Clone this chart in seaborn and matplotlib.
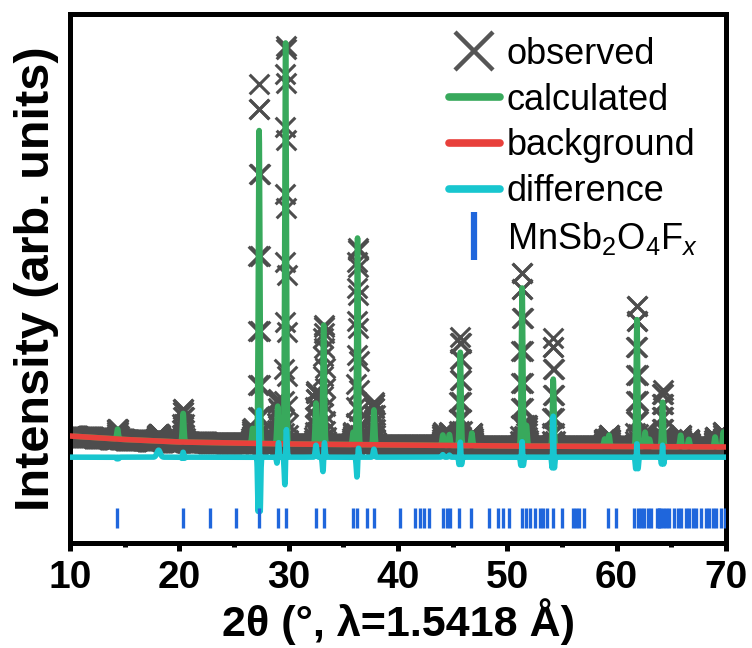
import numpy as np
import pandas as pd
import matplotlib
matplotlib.use("Agg")
import matplotlib.pyplot as plt
from matplotlib.lines import Line2D
from matplotlib.ticker import MultipleLocator
import seaborn as sns

# ---------------------------------------------------------------------------
# Rietveld refinement of MnSb2O4Fx (Cu Ka, 2theta 10-70 deg)
# ---------------------------------------------------------------------------

# Bragg reflection positions of the refined phase (2theta, deg)
hkl_positions = [14.33, 20.36, 22.80, 25.22, 27.31, 29.00, 29.74, 32.50, 33.23,
                 35.88, 36.25, 37.14, 37.80, 40.18, 41.52, 42.05, 42.40, 42.87,
                 44.12, 44.45, 44.75, 45.55, 46.68, 48.35, 49.15, 49.60, 50.15,
                 51.35, 51.70, 52.10, 52.55, 52.95, 53.30, 53.65, 54.20, 55.02,
                 56.00, 56.27, 56.55, 57.00, 59.18, 59.94, 61.60, 61.92, 62.22,
                 62.53, 62.83, 63.14, 63.70, 63.85, 64.00, 64.20, 64.50, 64.82,
                 65.27, 65.58, 65.88, 66.34, 66.65, 66.96, 67.26, 67.72, 68.17,
                 68.48, 68.79, 69.09, 69.55, 69.90]

# Fitted reflections: position, calculated / observed height above background
peak_pos = [14.35, 20.35, 26.70, 27.30, 29.00, 29.72, 32.50, 33.20, 35.90,
            36.30, 37.80, 44.10, 44.70, 45.70, 46.75, 51.35, 51.75, 54.20,
            58.90, 59.30, 61.85, 62.60, 63.00, 64.20, 65.85, 66.60, 69.00, 69.75]
calc_height = [200, 580, 300, 6270, 755, 8035, 826, 2390, 250,
               4140, 700, 210, 220, 1870, 255, 3200, 420, 1345,
               150, 230, 2570, 290, 150, 893, 234, 150, 200, 300]
obs_height = [200, 680, 300, 7210, 900, 8035, 1066, 2390, 250,
              3960, 860, 260, 260, 2170, 255, 3520, 420, 2165,
              150, 230, 2850, 290, 150, 1133, 234, 150, 200, 300]
obs_width_ratio = [0.8, 0.9, 1.0, 0.75, 1.0, 1.0, 1.0, 1.0, 1.0,
                   1.0, 1.0, 1.0, 1.0, 0.85, 1.0, 0.9, 1.0, 0.7,
                   1.0, 1.0, 0.85, 1.0, 1.0, 0.75, 1.0, 1.0, 1.0, 1.0]
obs_shift = [0.0, 0.0, 0.0, 0.0, 0.028, 0.008, 0.0, 0.014, 0.0,
             0.008, 0.0, 0.0, 0.0, 0.0, 0.0, 0.0, 0.0, 0.0,
             0.0, 0.0, 0.0, 0.0, 0.0, 0.0, 0.0, 0.0, 0.0, 0.0]

# Weak observed feature not accounted for by the model
excess_pos = [18.1]
excess_height = [140]

# Refined background
bg_two_theta = [10, 15, 20, 25, 30, 40, 50, 60, 70]
bg_counts = [1144, 1074, 1024, 1004, 984, 964, 944, 934, 924]

# Instrument / display settings
STEP = 0.02          # scan step, deg
SIGMA = 0.07         # gaussian peak width, deg
DIFF_OFFSET = 720    # vertical offset of the difference curve
TICK_LOW, TICK_HIGH = -700, -300

GRAY = "#4d4d4d"
GREEN = "#38a95c"
RED = "#e8403b"
CYAN = "#18c6cf"
BLUE = "#1f66dc"


def gauss(x, center, height, sigma):
    return height * np.exp(-0.5 * ((x - center) / sigma) ** 2)


two_theta = np.round(np.arange(10.0, 70.0 + STEP / 2, STEP), 3)
background = np.interp(two_theta, bg_two_theta, bg_counts)

calculated = background.copy()
observed = background.copy()
for p, hc, ho, r, s in zip(peak_pos, calc_height, obs_height, obs_width_ratio, obs_shift):
    calculated += gauss(two_theta, p, hc, SIGMA)
    observed += gauss(two_theta, p + s, ho, SIGMA * r)
for p, h in zip(excess_pos, excess_height):
    observed += gauss(two_theta, p, h, 0.15)

df = pd.DataFrame({
    "two_theta": two_theta,
    "observed": observed,
    "calculated": calculated,
    "difference": observed - calculated + DIFF_OFFSET,
})
bg_df = pd.DataFrame({"two_theta": bg_two_theta, "background": bg_counts})

sns.set_theme(style="white")
plt.rcParams["font.family"] = ["Liberation Sans", "DejaVu Sans"]
plt.rcParams["mathtext.fontset"] = "custom"
plt.rcParams["mathtext.rm"] = "Liberation Sans"
plt.rcParams["mathtext.it"] = "Liberation Sans:italic"
plt.rcParams["mathtext.bf"] = "Liberation Sans:bold"
plt.rcParams["text.color"] = "black"
plt.rcParams["axes.labelcolor"] = "black"
plt.rcParams["xtick.color"] = "black"
plt.rcParams["ytick.color"] = "black"

fig = plt.figure(figsize=(7.52, 6.48), dpi=100)
ax = fig.add_axes([70 / 752, 1 - 543 / 648, 656 / 752, 529 / 648])

sns.scatterplot(data=df, x="two_theta", y="observed", marker="x", s=200,
                linewidth=2.2, color=GRAY, ax=ax, legend=False, zorder=1)
sns.lineplot(data=df, x="two_theta", y="calculated", color=GREEN, lw=4,
             estimator=None, errorbar=None, ax=ax, zorder=2)
sns.lineplot(data=bg_df, x="two_theta", y="background", color=RED, lw=4,
             estimator=None, errorbar=None, ax=ax, zorder=3)
sns.lineplot(data=df, x="two_theta", y="difference", color=CYAN, lw=4,
             estimator=None, errorbar=None, ax=ax, zorder=3)
ax.vlines(hkl_positions, TICK_LOW, TICK_HIGH, color=BLUE, lw=2.4, zorder=3)

ax.set_xlim(10, 70)
ax.set_ylim(-1000, 9600)
ax.set_yticks([])
ax.xaxis.set_major_locator(MultipleLocator(10))
ax.xaxis.set_minor_locator(MultipleLocator(5))
ax.tick_params(axis="x", which="major", direction="out", length=6, width=3.6,
               labelsize=28, pad=6, color="black", labelcolor="black", bottom=True)
ax.tick_params(axis="x", which="minor", direction="out", length=3, width=3.6,
               color="black", bottom=True)
for lbl in ax.get_xticklabels():
    lbl.set_fontweight("bold")

for side in ["left", "right", "top", "bottom"]:
    ax.spines[side].set_visible(True)
    ax.spines[side].set_linewidth(3.6)
    ax.spines[side].set_color("black")

ax.set_xlabel("2θ (°, λ=1.5418 Å)", fontsize=31, fontweight="bold",
              labelpad=2, color="black")
ax.set_ylabel("Intensity (arb. units)", fontsize=35, fontweight="bold",
              labelpad=8, color="black")

handles = [
    Line2D([], [], marker="x", color="#555555", ms=27, mew=3.2, ls="none"),
    Line2D([], [], color=GREEN, lw=5.5, solid_capstyle="round"),
    Line2D([], [], color=RED, lw=5.5, solid_capstyle="round"),
    Line2D([], [], color=CYAN, lw=5.5, solid_capstyle="round"),
    Line2D([], [], marker="|", color=BLUE, ms=34, mew=4.5, ls="none"),
]
labels = ["observed", "calculated", "background", "difference",
          r"MnSb$_2$O$_4$F$_x$"]
leg = ax.legend(handles, labels, loc="upper left", bbox_to_anchor=(0.578, 0.957),
                frameon=False, prop={"family": "Liberation Sans", "size": 26},
                handlelength=1.4, handletextpad=0.2, labelspacing=0.3,
                borderpad=0, borderaxespad=0)
for t in leg.get_texts():
    t.set_color("black")

fig.savefig("out.png", dpi=100)
